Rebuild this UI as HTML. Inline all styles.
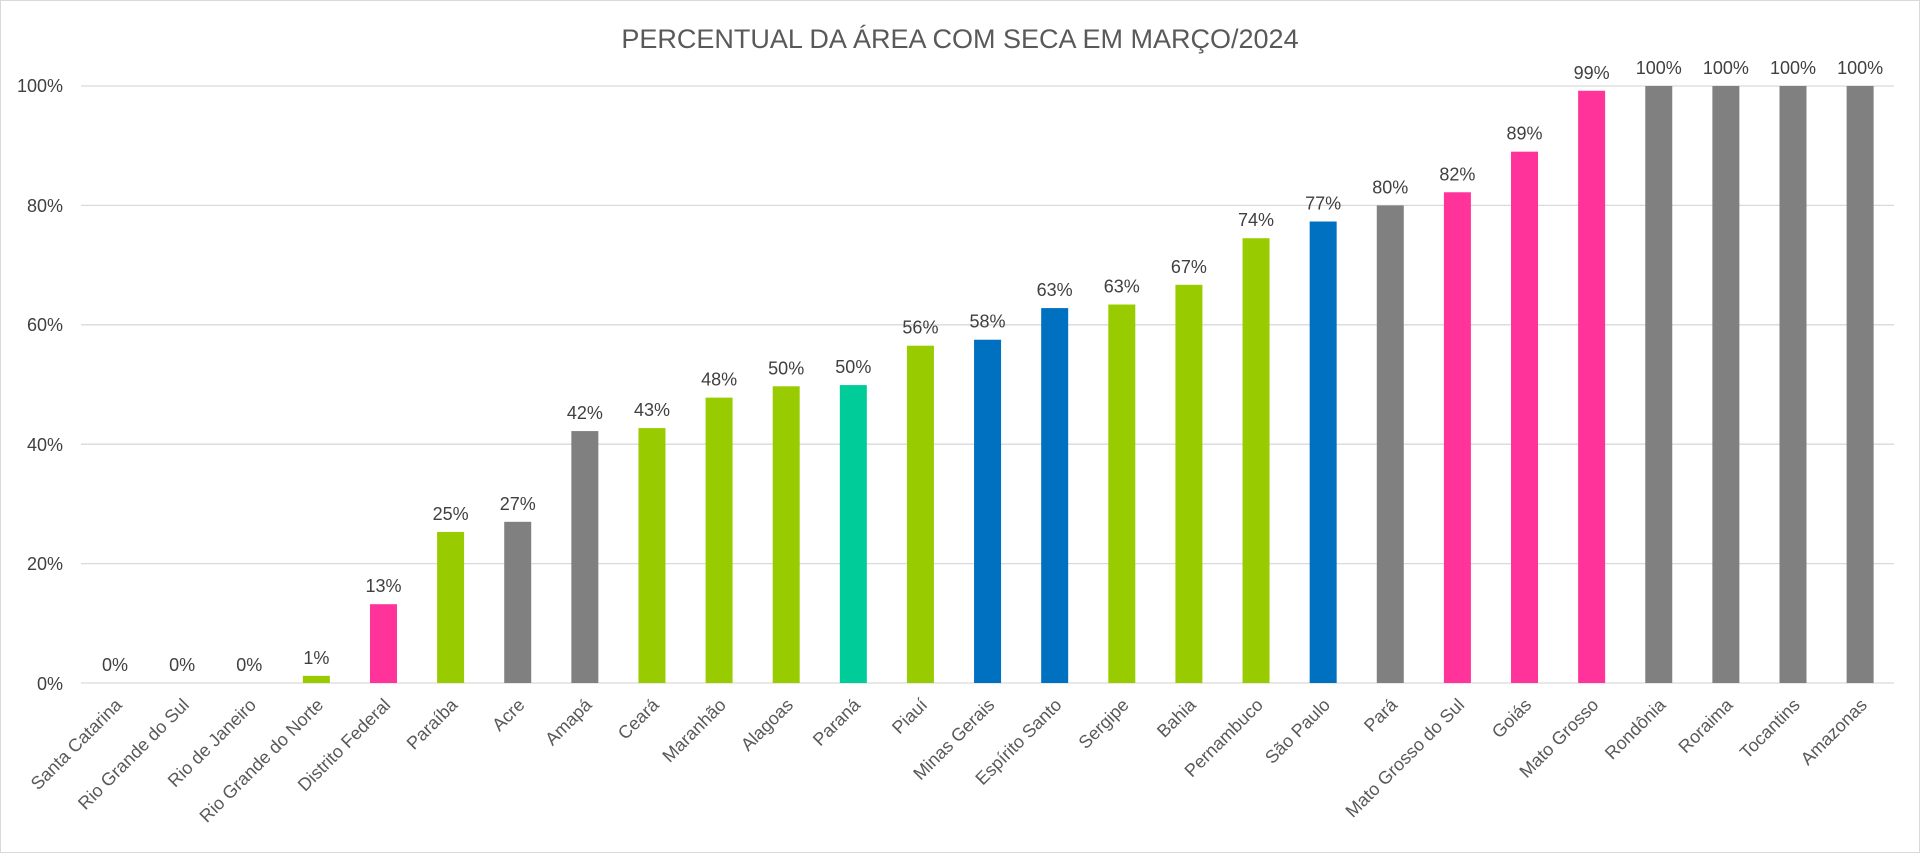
<!DOCTYPE html>
<html><head><meta charset="utf-8"><style>
html,body{margin:0;padding:0;background:#fff}
svg{display:block}
text{font-family:"Liberation Sans",sans-serif;fill:#404040}
</style></head><body>
<svg width="1920" height="853" viewBox="0 0 1920 853">
<rect x="0.5" y="0.5" width="1919" height="852" fill="#fff" stroke="#d9d9d9"/>
<text x="960" y="48" text-anchor="middle" font-size="27" style="fill:#595959">PERCENTUAL DA ÁREA COM SECA EM MARÇO/2024</text>
<g stroke="#d9d9d9" stroke-width="1.3">
<line x1="81" x2="1894" y1="86" y2="86"/><line x1="81" x2="1894" y1="205.4" y2="205.4"/>
<line x1="81" x2="1894" y1="324.8" y2="324.8"/><line x1="81" x2="1894" y1="444.2" y2="444.2"/>
<line x1="81" x2="1894" y1="563.6" y2="563.6"/><line x1="81" x2="1894" y1="683" y2="683"/>
</g>
<g font-size="18" text-anchor="end" style="fill:#595959">
<text x="63" y="92">100%</text><text x="63" y="212">80%</text><text x="63" y="331">60%</text>
<text x="63" y="451">40%</text><text x="63" y="570">20%</text><text x="63" y="690">0%</text>
</g>
<g id="bars"></g>
</svg>
<script>
var d=[["Santa Catarina",0,"0%","#99cc00"],["Rio Grande do Sul",0,"0%","#99cc00"],["Rio de Janeiro",0,"0%","#99cc00"],["Rio Grande do Norte",1.2,"1%","#99cc00"],["Distrito Federal",13.2,"13%","#ff3399"],["Paraíba",25.3,"25%","#99cc00"],["Acre",27,"27%","#808080"],["Amapá",42.2,"42%","#808080"],["Ceará",42.7,"43%","#99cc00"],["Maranhão",47.8,"48%","#99cc00"],["Alagoas",49.7,"50%","#99cc00"],["Paraná",49.9,"50%","#00cc99"],["Piauí",56.5,"56%","#99cc00"],["Minas Gerais",57.5,"58%","#0070c0"],["Espírito Santo",62.8,"63%","#0070c0"],["Sergipe",63.4,"63%","#99cc00"],["Bahia",66.7,"67%","#99cc00"],["Pernambuco",74.5,"74%","#99cc00"],["São Paulo",77.3,"77%","#0070c0"],["Pará",80,"80%","#808080"],["Mato Grosso do Sul",82.2,"82%","#ff3399"],["Goiás",89,"89%","#ff3399"],["Mato Grosso",99.2,"99%","#ff3399"],["Rondônia",100,"100%","#808080"],["Roraima",100,"100%","#808080"],["Tocantins",100,"100%","#808080"],["Amazonas",100,"100%","#808080"]];
var g=document.getElementById("bars"),s="";
d.forEach(function(r,i){var cx=115+i*67.12,h=r[1]*5.97,y=683-h;
if(h>0)s+='<rect x="'+(cx-13.5)+'" y="'+y+'" width="27" height="'+h+'" fill="'+r[3]+'"/>';
s+='<text x="'+cx+'" y="'+(y-12)+'" font-size="18" text-anchor="middle">'+r[2]+'</text>';
s+='<text transform="translate('+(cx+8)+',706) rotate(-45)" font-size="18" text-anchor="end" style="fill:#595959">'+r[0]+'</text>';});
g.innerHTML=s;
</script>
</body></html>
